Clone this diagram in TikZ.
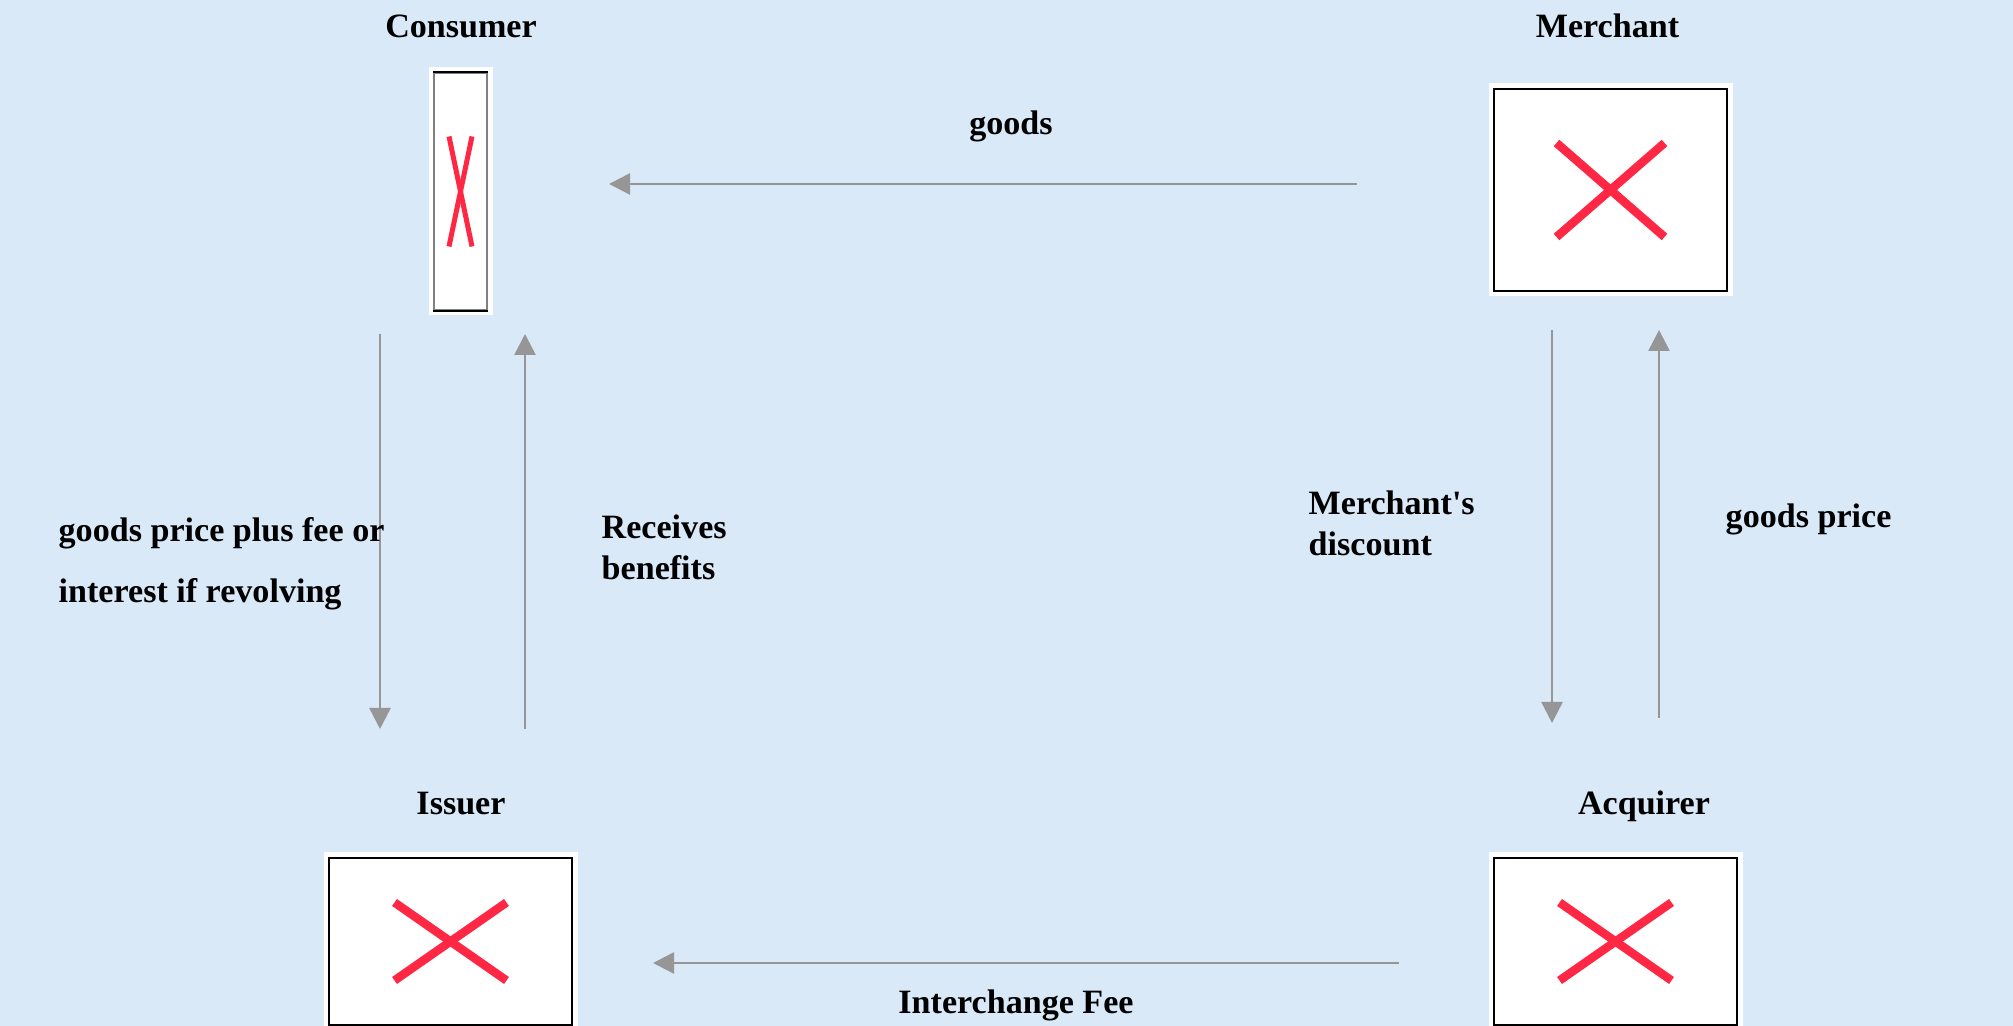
\documentclass[tikz,border=0pt]{standalone}
\usepackage{fontspec}
\setmainfont{Liberation Serif}
\usepackage{tikz}
\usetikzlibrary{arrows.meta,calc,positioning}
\definecolor{bgblue}{RGB}{217,233,248}
\definecolor{crossred}{RGB}{255,40,68}
\definecolor{flowgray}{RGB}{150,150,150}

\begin{document}
\begin{tikzpicture}[
  imgbox/.style={draw=black,line width=0.6pt,fill=white,inner sep=0pt,
    preaction={draw=white,line width=0.11cm}},
  flow/.style={draw=flowgray,line width=0.7pt,-{Triangle[length=0.21cm,width=0.21cm]}},
  cross/.style={draw=crossred,line width=0.085cm},
  lbl/.style={inner sep=0pt,font=\fontsize{9.7}{11.7}\selectfont\bfseries}
]
\fill[bgblue] (0,0) rectangle (20.13,10.26);
\useasboundingbox (0,0) rectangle (20.13,10.26);
\clip (0,0) rectangle (20.13,10.26);

% boxes
\node[imgbox,draw=gray,minimum width=0.53cm,minimum height=2.37cm] (consumer) at (4.605,8.345) {};
\node[imgbox,minimum width=2.33cm,minimum height=2.02cm] (merchant) at (16.105,8.36) {};
\node[imgbox,minimum width=2.43cm,minimum height=1.67cm] (issuer) at (4.505,0.845) {};
\node[imgbox,minimum width=2.43cm,minimum height=1.67cm] (acquirer) at (16.155,0.845) {};
\draw[black,line width=0.8pt] (consumer.north west) -- (consumer.north east);
\draw[black,line width=0.8pt] (consumer.south west) -- (consumer.south east);

% red crosses
\draw[cross,line width=0.05cm] ($(consumer.center)+(-0.115,0.55)$) -- ($(consumer.center)+(0.115,-0.55)$);
\draw[cross,line width=0.05cm] ($(consumer.center)+(0.115,0.55)$) -- ($(consumer.center)+(-0.115,-0.55)$);
\draw[cross] ($(merchant.center)+(-0.54,0.47)$) -- ($(merchant.center)+(0.54,-0.47)$);
\draw[cross] ($(merchant.center)+(0.54,0.47)$) -- ($(merchant.center)+(-0.54,-0.47)$);
\draw[cross] ($(issuer.center)+(-0.56,0.39)$) -- ($(issuer.center)+(0.56,-0.39)$);
\draw[cross] ($(issuer.center)+(0.56,0.39)$) -- ($(issuer.center)+(-0.56,-0.39)$);
\draw[cross] ($(acquirer.center)+(-0.56,0.39)$) -- ($(acquirer.center)+(0.56,-0.39)$);
\draw[cross] ($(acquirer.center)+(0.56,0.39)$) -- ($(acquirer.center)+(-0.56,-0.39)$);

% titles
\node[lbl,anchor=base] (consumerT) at (4.61,9.88) {Consumer};
\node[lbl,anchor=base] (merchantT) at (16.075,9.88) {Merchant};
\node[lbl,anchor=base] (issuerT) at (4.61,2.11) {Issuer};
\node[lbl,anchor=base] (acquirerT) at (16.44,2.11) {Acquirer};

% flow ends
\coordinate (goodsS) at (13.57,8.42);
\coordinate (goodsE) at (6.09,8.42);
\coordinate (payS) at (3.80,6.92);
\coordinate (payE) at (3.80,2.97);
\coordinate (benS) at (5.25,2.97);
\coordinate (benE) at (5.25,6.92);
\coordinate (discS) at (15.52,6.96);
\coordinate (discE) at (15.52,3.03);
\coordinate (priceS) at (16.59,3.08);
\coordinate (priceE) at (16.59,6.96);
\coordinate (feeS) at (13.99,0.63);
\coordinate (feeE) at (6.53,0.63);

\draw[flow] (goodsS) -- (goodsE);
\draw[flow] (payS) -- (payE);
\draw[flow] (benS) -- (benE);
\draw[flow] (discS) -- (discE);
\draw[flow] (priceS) -- (priceE);
\draw[flow] (feeS) -- (feeE);

% flow labels
\node[lbl,anchor=base] (goodsL) at (10.11,8.91) {goods};
\node[lbl,anchor=base] (feeL) at (10.16,0.12) {Interchange Fee};
\node[lbl,anchor=base west] (payL) at (0.58,4.84) {goods price plus fee or};
\node[lbl,anchor=base west] (payL2) at (0.58,4.23) {interest if revolving};
\node[lbl,anchor=base west,align=left] (benL) at (6.01,4.46) {Receives\\benefits};
\node[lbl,anchor=base west,align=left] (discL) at (13.08,4.70) {Merchant\textquotesingle s\\discount};
\node[lbl,anchor=base west] (priceL) at (17.25,4.98) {goods price};
\end{tikzpicture}
\end{document}
